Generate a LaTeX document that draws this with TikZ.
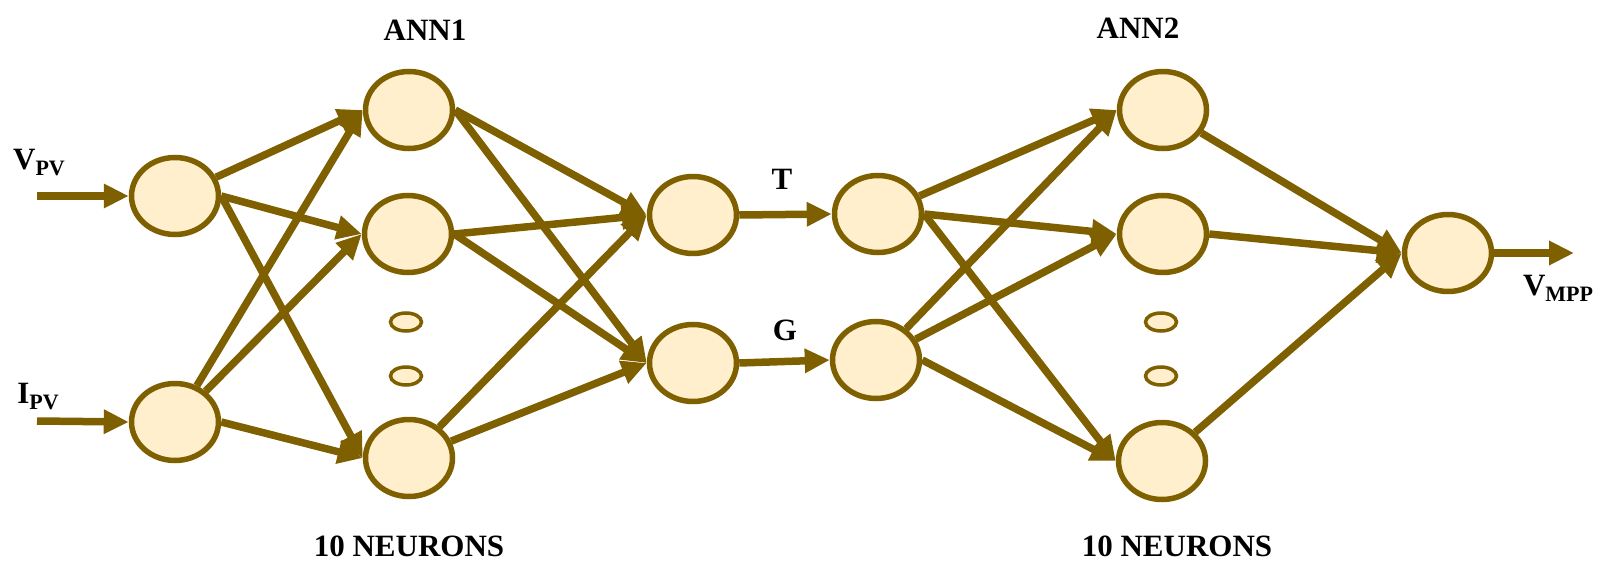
\documentclass[tikz,border=0pt]{standalone}
\usepackage{fontspec}
\setmainfont{Liberation Serif}
\usetikzlibrary{arrows.meta,shapes.geometric}
\definecolor{edgebrown}{HTML}{7F6000}
\definecolor{cream}{HTML}{FFEFCC}
\tikzset{
  neuron/.style={ellipse,draw=edgebrown,fill=cream,line width=5.5pt,minimum width=87pt,minimum height=77pt,inner sep=0pt},
  dotneuron/.style={ellipse,draw=edgebrown,fill=cream,line width=3.5pt,minimum width=31pt,minimum height=18pt,inner sep=0pt},
  conn/.style={draw=edgebrown,line width=7.5pt,-{Triangle[length=25pt,width=23pt]}},
  lbl/.style={font=\fontsize{31}{36}\selectfont\bfseries,text=black,inner sep=0pt}
}
\newcommand{\subtxt}[1]{\raisebox{-6pt}{\fontsize{22}{26}\selectfont\bfseries #1}}
\begin{document}
\begin{tikzpicture}[x=1pt,y=-1pt]
\useasboundingbox (0,0) rectangle (1602,580);
% input layer
\node[neuron] (i1) at (175,196) {};
\node[neuron] (i2) at (175,422) {};
% ANN1 hidden
\node[neuron] (a1) at (409,110) {};
\node[neuron] (a2) at (408,234) {};
\node[dotneuron] (ad1) at (406,322) {};
\node[dotneuron] (ad2) at (406,376) {};
\node[neuron] (a3) at (409,458) {};
% middle
\node[neuron] (m1) at (693,215) {};
\node[neuron] (m2) at (693,363) {};
\node[neuron] (r1) at (878,214) {};
\node[neuron] (r2) at (876,360) {};
% ANN2 hidden
\node[neuron] (b1) at (1163,110) {};
\node[neuron] (b2) at (1163,234) {};
\node[dotneuron] (bd1) at (1161,322) {};
\node[dotneuron] (bd2) at (1161,376) {};
\node[neuron] (b3) at (1162,461) {};
% output
\node[neuron] (o) at (1448,253) {};
% free ends
\coordinate (in1) at (37,196);
\coordinate (in2) at (37,421);
\coordinate (out) at (1574,253);
% labels
\node[lbl] (lv) at (39,163) {V\subtxt{PV}};
\node[lbl] (li) at (38,397) {I\subtxt{PV}};
\node[lbl] (lann1) at (425,30) {ANN1};
\node[lbl] (lann2) at (1138,28) {ANN2};
\node[lbl] (ln1) at (409,546) {10 NEURONS};
\node[lbl] (ln2) at (1177,546) {10 NEURONS};
\node[lbl] (lt) at (782,179) {T};
\node[lbl] (lg) at (785,330) {G};
\node[lbl] (lo) at (1558,288) {V\subtxt{MPP}};
% connectors
\draw[conn] (in1) -- (i1.west);
\draw[conn] (in2) -- (i2.west);
% input -> ANN1 (upward edges from border, downward from east)
\draw[conn] (i1) -- (a1.west);
\draw[conn] (i1.east) -- (a2.west);
\draw[conn] (i1.east) -- (a3.west);
\draw[conn] (i2) -- (a1.west);
\draw[conn] (i2) -- (a2.west);
\draw[conn] (i2.east) -- (a3.west);
% ANN1 -> middle
\draw[conn] (a1.east) -- (m1.west);
\draw[conn] (a1.east) -- (m2.west);
\draw[conn] (a2.east) -- (m1.west);
\draw[conn] (a2.east) -- (m2.west);
\draw[conn] (a3) -- (m1.west);
\draw[conn] (a3) -- (m2.west);
% middle
\draw[conn] (m1.east) -- (r1.west);
\draw[conn] (m2.east) -- (r2.west);
% middle -> ANN2
\draw[conn] (r1) -- (b1.west);
\draw[conn] (r1.east) -- (b2.west);
\draw[conn] (r1.east) -- (b3.west);
\draw[conn] (r2) -- (b1.west);
\draw[conn] (r2) -- (b2.west);
\draw[conn] (r2.east) -- (b3.west);
% ANN2 -> output
\draw[conn] (b1) -- (o.west);
\draw[conn] (b2.east) -- (o.west);
\draw[conn] (b3) -- (o.west);
\draw[conn] (o.east) -- (out);
\end{tikzpicture}
\end{document}
